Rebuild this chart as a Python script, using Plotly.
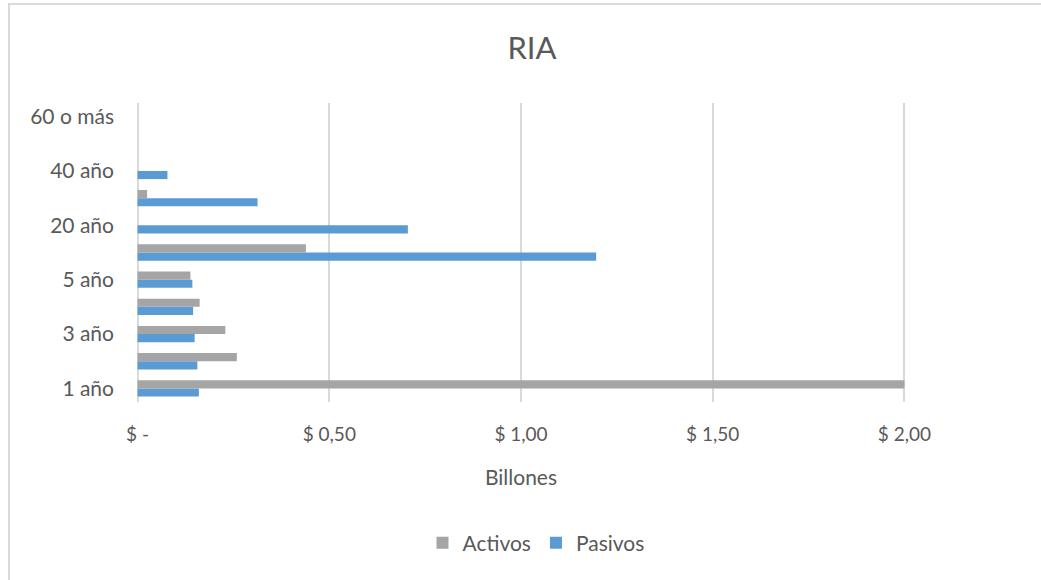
import plotly.graph_objects as go

# Plazos (eje de categorías, de abajo hacia arriba)
plazos = ["1 año", "2 año", "3 año", "4 año", "5 año", "10 año",
          "20 año", "30 año", "40 año", "50 año", "60 o más"]

# Valores en billones
activos = [2.00, 0.259, 0.229, 0.162, 0.138, 0.439, 0.0, 0.025, 0.0, 0.0, 0.0]
pasivos = [0.160, 0.156, 0.149, 0.145, 0.143, 1.196, 0.705, 0.313, 0.078, 0.0, 0.0]

x_ticks = [0, 0.5, 1.0, 1.5, 2.0]
x_labels = ["$ -", "$ 0,50", "$ 1,00", "$ 1,50", "$ 2,00"]

FONT = "Lato"
TXT = "#595959"
GRID = "#d9d9d9"

fig = go.Figure()
fig.add_trace(go.Bar(y=plazos, x=pasivos, name="Pasivos", orientation="h",
                     marker=dict(color="#5b9bd5", line=dict(width=0))))
fig.add_trace(go.Bar(y=plazos, x=activos, name="Activos", orientation="h",
                     marker=dict(color="#a5a5a5", line=dict(width=0))))

L, R, T, B = 136, 135, 103, 178
W, H = 1041, 580
pw, ph = W - L - R, H - T - B

def px_to_paper_x(px):
    return (px - L) / pw

def px_to_paper_y(py):
    return (H - B - py) / ph

pad = 0.004  # keeps the gridlines at 0 and 2 inside the plot area

fig.update_layout(
    width=W, height=H,
    margin=dict(l=L, r=R, t=T, b=B, pad=0),
    paper_bgcolor="white", plot_bgcolor="white",
    barmode="group", bargap=0.4, bargroupgap=0,
    font=dict(family=FONT, color=TXT, size=18),
    title=dict(text="RIA", x=532 / W, xanchor="center", y=1 - 48 / H,
               yanchor="middle", xref="container", yref="container",
               font=dict(size=31, color=TXT, family=FONT)),
    showlegend=True,
    legend=dict(orientation="h", traceorder="reversed", x=536 / W,
                xanchor="center", xref="container", y=1 - 543 / H,
                yref="container", yanchor="middle",
                font=dict(size=21, color=TXT), itemwidth=30),
    xaxis=dict(range=[-pad, 2.0 + pad], tickvals=x_ticks, ticktext=x_labels,
               showgrid=True, gridcolor=GRID, gridwidth=2,
               zeroline=False, showline=False, ticks="",
               ticklabelstandoff=19, tickfont=dict(size=19),
               title=dict(text="Billones", standoff=26,
                          font=dict(size=21, color=TXT))),
    yaxis=dict(type="category", categoryorder="array", categoryarray=plazos,
               tickvals=plazos[::2], ticktext=plazos[::2],
               showgrid=False, zeroline=False, showline=False, ticks="",
               ticklabelstandoff=21, tickfont=dict(size=21),
               range=[-0.5, len(plazos) - 0.5]),
    shapes=[dict(type="rect", xref="paper", yref="paper",
                 x0=px_to_paper_x(9), x1=px_to_paper_x(W + 20),
                 y0=px_to_paper_y(H + 20), y1=px_to_paper_y(4),
                 line=dict(color=GRID, width=2), layer="below")],
)

fig.write_html("out.html")
